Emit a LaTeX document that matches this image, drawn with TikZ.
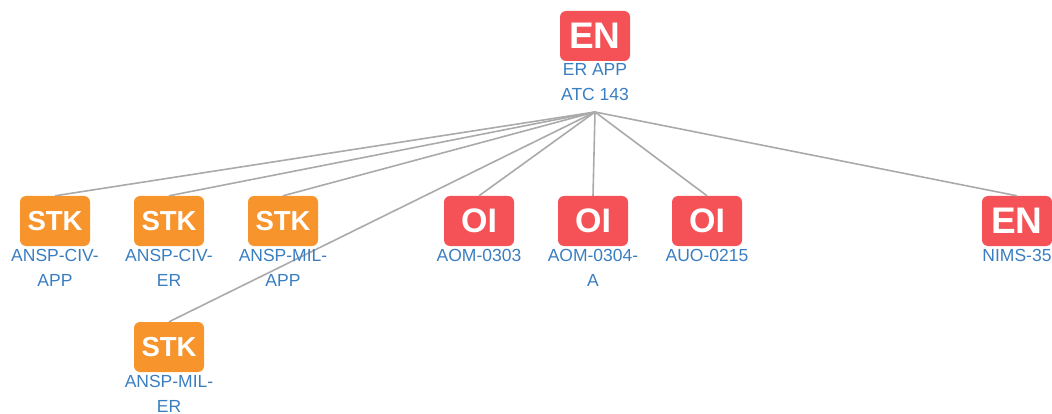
\documentclass[tikz,border=0pt]{standalone}
\usepackage{fontspec}
\setmainfont{Liberation Sans}
\usetikzlibrary{positioning}
\definecolor{enred}{HTML}{F45257}
\definecolor{stkorange}{HTML}{F8942C}
\definecolor{lblblue}{HTML}{3A7EC0}
\definecolor{edgegray}{HTML}{AAAAAA}

\begin{document}
\begin{tikzpicture}[x=1pt, y=-1pt,
    box/.style={rounded corners=6pt, minimum width=70pt, minimum height=50pt, inner sep=0pt, text=white, font=\bfseries},
    enbox/.style={box, fill=enred, font=\bfseries\fontsize{37}{37}\selectfont},
    oibox/.style={box, fill=enred, font=\bfseries\fontsize{34}{34}\selectfont},
    stkbox/.style={box, fill=stkorange, font=\bfseries\fontsize{27.5}{27.5}\selectfont},
    lbl/.style={below=2.5pt, inner sep=0pt, text=lblblue, align=center, font=\fontsize{17.5}{25}\selectfont},
    edge/.style={draw=edgegray, line width=1.6pt}]
    \useasboundingbox (0,0) rectangle (1052,414);

    % root
    \node [enbox] (er) at (595,36) {EN};
    \node [lbl] (erlbl) at (er.south) {ER APP\\ATC 143};
    \coordinate (hub) at (595,112);

    % children
    \node [stkbox] (civapp) at (55,221) {STK};
    \node [stkbox] (civer) at (169,221) {STK};
    \node [stkbox] (milapp) at (283,221) {STK};
    \node [stkbox] (miler) at (169,347) {STK};
    \node [oibox] (aom303) at (479,221) {OI};
    \node [oibox] (aom304) at (593,221) {OI};
    \node [oibox] (auo215) at (707,221) {OI};
    \node [enbox] (nims) at (1017,221) {EN};

    % connectors
    \foreach \c in {civapp,civer,milapp,miler,aom303,aom304,auo215,nims}
        \draw [edge] (hub) -- (\c.north);

    % labels
    \node [lbl] (civapplbl) at (civapp.south) {ANSP-CIV-\\APP};
    \node [lbl] (civerlbl) at (civer.south) {ANSP-CIV-\\ER};
    \node [lbl] (milapplbl) at (milapp.south) {ANSP-MIL-\\APP};
    \node [lbl] (milerlbl) at (miler.south) {ANSP-MIL-\\ER};
    \node [lbl] (aom303lbl) at (aom303.south) {AOM-0303};
    \node [lbl] (aom304lbl) at (aom304.south) {AOM-0304-\\A};
    \node [lbl] (auo215lbl) at (auo215.south) {AUO-0215};
    \node [lbl] (nimslbl) at (nims.south) {NIMS-35};
\end{tikzpicture}
\end{document}
